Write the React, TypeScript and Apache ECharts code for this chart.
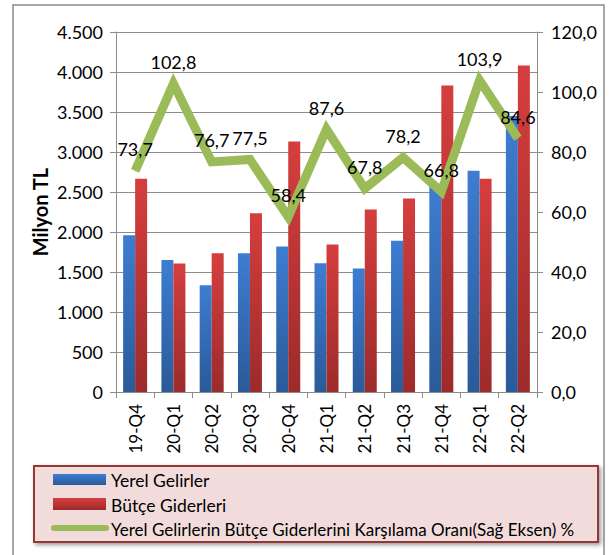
import React, { useEffect, useRef } from "react";
import * as echarts from "echarts";

const categories = ["19-Q4", "20-Q1", "20-Q2", "20-Q3", "20-Q4", "21-Q1", "21-Q2", "21-Q3", "21-Q4", "22-Q1", "22-Q2"];
const yerelGelirler = [1960, 1650, 1335, 1735, 1820, 1610, 1545, 1890, 2570, 2765, 3450];
const butceGiderleri = [2665, 1605, 1735, 2235, 3130, 1845, 2280, 2420, 3830, 2665, 4080];
const karsilamaOrani = [73.7, 102.8, 76.7, 77.5, 58.4, 87.6, 67.8, 78.2, 66.8, 103.9, 84.6];
const seriesNames = [
  "Yerel Gelirler",
  "Bütçe Giderleri",
  "Yerel Gelirlerin Bütçe Giderlerini Karşılama Oranı(Sağ Eksen) %",
];
const yAxisTitle = "Milyon TL";

const FONT = "Lato, 'Open Sans', sans-serif";

const blueGrad = () =>
  new echarts.graphic.LinearGradient(0, 0, 0, 1, [
    { offset: 0, color: "#3D7DD2" },
    { offset: 1, color: "#2A5A98" },
  ]);
const redGrad = () =>
  new echarts.graphic.LinearGradient(0, 0, 0, 1, [
    { offset: 0, color: "#D63E3E" },
    { offset: 1, color: "#9C2B2B" },
  ]);

const fmtLeft = (v: number) => String(v).replace(/\B(?=(\d{3})+(?!\d))/g, ".");
const fmtRight = (v: number) => v.toFixed(1).replace(".", ",");

export default function App() {
  const ref = useRef<HTMLDivElement>(null);
  useEffect(() => {
    if (!ref.current) return;
    const chart = echarts.init(ref.current, null, { renderer: "svg" });
    const axisGray = "#8c8c8c";
    chart.setOption({
      animation: false,
      backgroundColor: "#ffffff",
      textStyle: { fontFamily: FONT },
      grid: { left: 116, right: 78, top: 32, bottom: 163 },
      xAxis: {
        type: "category",
        data: categories,
        axisLine: { lineStyle: { color: axisGray, width: 1 } },
        axisTick: { show: true, length: 6, lineStyle: { color: axisGray } },
        axisLabel: { rotate: 90, fontSize: 17, color: "#000", margin: 12, fontFamily: FONT },
      },
      yAxis: [
        {
          type: "value",
          min: 0,
          max: 4500,
          interval: 500,
          axisLine: { show: true, lineStyle: { color: axisGray } },
          axisTick: { show: true, length: 6, lineStyle: { color: axisGray } },
          splitLine: { show: true, lineStyle: { color: axisGray, width: 1 } },
          axisLabel: { formatter: fmtLeft, fontSize: 18, color: "#000", margin: 13, fontFamily: FONT },
        },
        {
          type: "value",
          min: 0,
          max: 120,
          interval: 20,
          position: "right",
          axisLine: { show: true, lineStyle: { color: axisGray } },
          axisTick: { show: true, length: 6, lineStyle: { color: axisGray } },
          splitLine: { show: false },
          axisLabel: { formatter: fmtRight, fontSize: 18, color: "#000", margin: 14, fontFamily: FONT },
        },
      ],
      legend: { show: false },
      series: [
        {
          name: seriesNames[0],
          type: "bar",
          data: yerelGelirler,
          barWidth: 12,
          barGap: "0%",
          itemStyle: { color: blueGrad() },
        },
        {
          name: seriesNames[1],
          type: "bar",
          data: butceGiderleri,
          barWidth: 12,
          barGap: "0%",
          itemStyle: { color: redGrad() },
        },
        {
          name: seriesNames[2],
          type: "line",
          yAxisIndex: 1,
          data: karsilamaOrani,
          symbol: "circle",
          symbolSize: 1,
          z: 5,
          lineStyle: { color: "#9BBB59", width: 9, join: "miter" },
          itemStyle: { color: "#9BBB59" },
          label: {
            show: true,
            position: "top",
            distance: 12,
            fontSize: 18,
            color: "#000",
            fontFamily: FONT,
            formatter: (p: any) => fmtRight(p.value),
          },
        },
      ],
      graphic: [
        {
          type: "rect",
          shape: { x: 13, y: 5, width: 591, height: 570 },
          style: { fill: "none", stroke: "#8a8a8a", lineWidth: 1.5 },
          silent: true,
        },
        {
          type: "text",
          x: 40,
          y: 212,
          rotation: Math.PI / 2,
          style: {
            text: yAxisTitle,
            font: `bold 20px ${FONT}`,
            fill: "#000",
            align: "center",
            verticalAlign: "middle",
          },
        },
        {
          type: "rect",
          shape: { x: 34, y: 466, width: 564, height: 76 },
          style: {
            fill: "#F2DCDB",
            stroke: "#953735",
            lineWidth: 2,
            shadowBlur: 4,
            shadowOffsetX: 2,
            shadowOffsetY: 2,
            shadowColor: "rgba(0,0,0,0.4)",
          },
        },
        {
          type: "rect",
          shape: { x: 53, y: 474, width: 53, height: 11 },
          style: { fill: blueGrad() },
        },
        {
          type: "text",
          x: 111,
          y: 480,
          style: { text: seriesNames[0], font: `17.5px ${FONT}`, fill: "#000", verticalAlign: "middle" },
        },
        {
          type: "rect",
          shape: { x: 53, y: 498, width: 53, height: 12 },
          style: { fill: redGrad() },
        },
        {
          type: "text",
          x: 111,
          y: 505,
          style: { text: seriesNames[1], font: `17.5px ${FONT}`, fill: "#000", verticalAlign: "middle" },
        },
        {
          type: "line",
          shape: { x1: 54, y1: 528, x2: 106, y2: 528 },
          style: { stroke: "#9BBB59", lineWidth: 6, lineCap: "round" },
        },
        {
          type: "text",
          x: 111,
          y: 529,
          style: { text: seriesNames[2], font: `17px ${FONT}`, fill: "#000", verticalAlign: "middle" },
        },
      ],
    });
    return () => chart.dispose();
  }, []);
  return (
    <div
      ref={ref}
      style={{ position: "fixed", left: 0, top: 0, width: 615, height: 555 }}
    />
  );
}
